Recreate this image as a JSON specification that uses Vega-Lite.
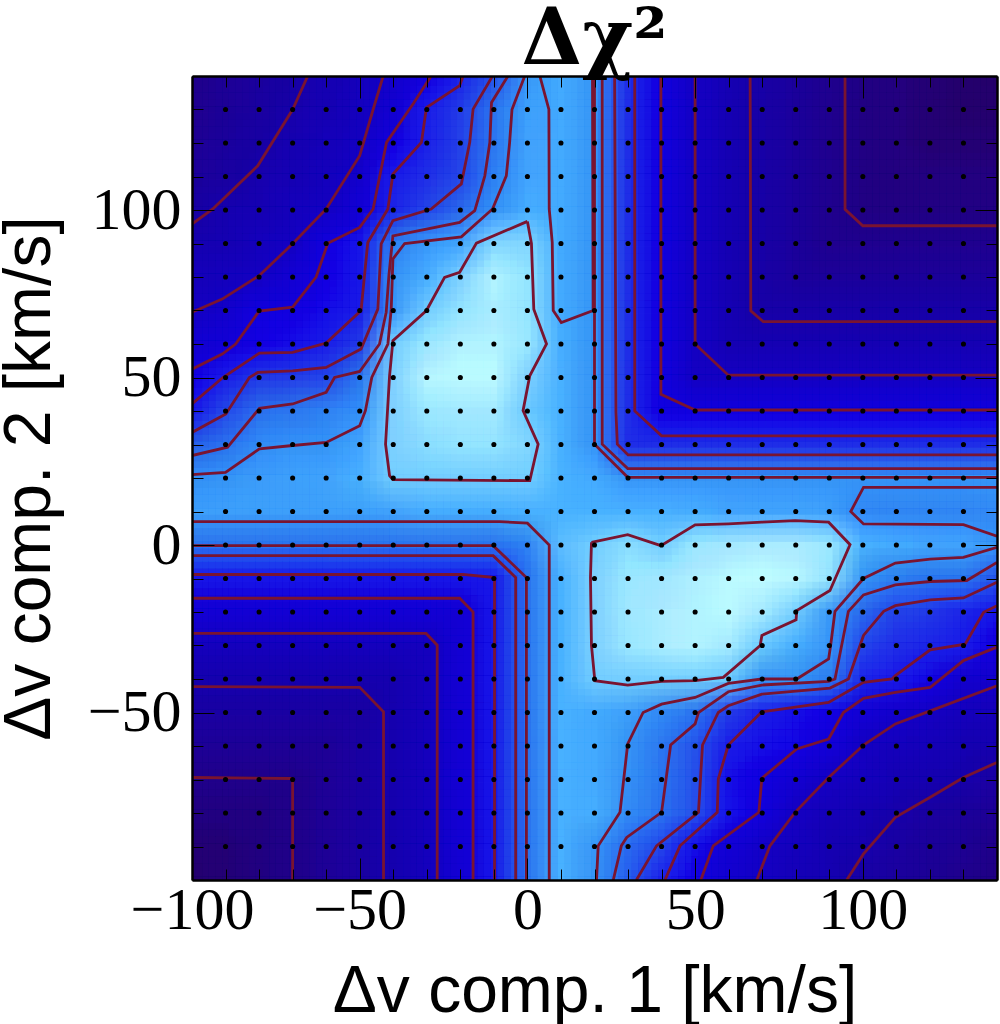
{"$schema":"https://vega.github.io/schema/vega-lite/v6.json","autosize":"none","width":805,"height":804,"padding":{"left":192,"top":76,"right":3,"bottom":144},"background":"white","view":{"stroke":null},
"title":{"text":"Δχ²","font":"DejaVu Serif","fontWeight":"bold","fontSize":78,"anchor":"middle","color":"black","offset":-34},
"data":{"values":[
{"x":-100,"y":140,"v":1.1},{"x":-90,"y":140,"v":1.3},{"x":-80,"y":140,"v":1.55},{"x":-70,"y":140,"v":1.85},{"x":-60,"y":140,"v":2.2},{"x":-50,"y":140,"v":2.7},{"x":-40,"y":140,"v":3.3},{"x":-30,"y":140,"v":3.9},{"x":-20,"y":140,"v":5.1},{"x":-10,"y":140,"v":6.1},{"x":0,"y":140,"v":8.2},{"x":10,"y":140,"v":8.7},{"x":20,"y":140,"v":8},{"x":30,"y":140,"v":5.4},{"x":40,"y":140,"v":4},{"x":50,"y":140,"v":3},{"x":60,"y":140,"v":2.4},{"x":70,"y":140,"v":1.9},{"x":80,"y":140,"v":1.5},{"x":90,"y":140,"v":1.15},{"x":100,"y":140,"v":0.85},{"x":110,"y":140,"v":0.65},{"x":120,"y":140,"v":0.45},{"x":130,"y":140,"v":0.3},{"x":140,"y":140,"v":0.2},
{"x":-100,"y":130,"v":1.15},{"x":-90,"y":130,"v":1.4},{"x":-80,"y":130,"v":1.7},{"x":-70,"y":130,"v":2},{"x":-60,"y":130,"v":2.4},{"x":-50,"y":130,"v":2.85},{"x":-40,"y":130,"v":3.5},{"x":-30,"y":130,"v":5},{"x":-20,"y":130,"v":5.7},{"x":-10,"y":130,"v":7.1},{"x":0,"y":130,"v":8.4},{"x":10,"y":130,"v":8.7},{"x":20,"y":130,"v":8},{"x":30,"y":130,"v":5.4},{"x":40,"y":130,"v":4},{"x":50,"y":130,"v":3},{"x":60,"y":130,"v":2.4},{"x":70,"y":130,"v":1.9},{"x":80,"y":130,"v":1.5},{"x":90,"y":130,"v":1.15},{"x":100,"y":130,"v":0.85},{"x":110,"y":130,"v":0.65},{"x":120,"y":130,"v":0.45},{"x":130,"y":130,"v":0.3},{"x":140,"y":130,"v":0.3},
{"x":-100,"y":120,"v":1.25},{"x":-90,"y":120,"v":1.55},{"x":-80,"y":120,"v":1.85},{"x":-70,"y":120,"v":2.2},{"x":-60,"y":120,"v":2.6},{"x":-50,"y":120,"v":2.95},{"x":-40,"y":120,"v":4.15},{"x":-30,"y":120,"v":5.1},{"x":-20,"y":120,"v":5.8},{"x":-10,"y":120,"v":7.2},{"x":0,"y":120,"v":8.5},{"x":10,"y":120,"v":8.7},{"x":20,"y":120,"v":8},{"x":30,"y":120,"v":5.4},{"x":40,"y":120,"v":4},{"x":50,"y":120,"v":3},{"x":60,"y":120,"v":2.4},{"x":70,"y":120,"v":1.9},{"x":80,"y":120,"v":1.5},{"x":90,"y":120,"v":1.15},{"x":100,"y":120,"v":0.85},{"x":110,"y":120,"v":0.65},{"x":120,"y":120,"v":0.45},{"x":130,"y":120,"v":0.45},{"x":140,"y":120,"v":0.45},
{"x":-100,"y":110,"v":1.45},{"x":-90,"y":110,"v":1.7},{"x":-80,"y":110,"v":2.1},{"x":-70,"y":110,"v":2.4},{"x":-60,"y":110,"v":2.75},{"x":-50,"y":110,"v":3.3},{"x":-40,"y":110,"v":5},{"x":-30,"y":110,"v":5.4},{"x":-20,"y":110,"v":5.9},{"x":-10,"y":110,"v":7.4},{"x":0,"y":110,"v":8.6},{"x":10,"y":110,"v":8.7},{"x":20,"y":110,"v":8},{"x":30,"y":110,"v":5.4},{"x":40,"y":110,"v":4},{"x":50,"y":110,"v":3},{"x":60,"y":110,"v":2.4},{"x":70,"y":110,"v":1.9},{"x":80,"y":110,"v":1.5},{"x":90,"y":110,"v":1.15},{"x":100,"y":110,"v":0.85},{"x":110,"y":110,"v":0.65},{"x":120,"y":110,"v":0.65},{"x":130,"y":110,"v":0.65},{"x":140,"y":110,"v":0.65},
{"x":-100,"y":100,"v":1.85},{"x":-90,"y":100,"v":2.15},{"x":-80,"y":100,"v":2.4},{"x":-70,"y":100,"v":2.7},{"x":-60,"y":100,"v":3},{"x":-50,"y":100,"v":3.7},{"x":-40,"y":100,"v":5.2},{"x":-30,"y":100,"v":5.9},{"x":-20,"y":100,"v":6.7},{"x":-10,"y":100,"v":8},{"x":0,"y":100,"v":8.8},{"x":10,"y":100,"v":8.7},{"x":20,"y":100,"v":8},{"x":30,"y":100,"v":5.4},{"x":40,"y":100,"v":4},{"x":50,"y":100,"v":3},{"x":60,"y":100,"v":2.4},{"x":70,"y":100,"v":1.9},{"x":80,"y":100,"v":1.5},{"x":90,"y":100,"v":1.15},{"x":100,"y":100,"v":0.85},{"x":110,"y":100,"v":0.85},{"x":120,"y":100,"v":0.85},{"x":130,"y":100,"v":0.85},{"x":140,"y":100,"v":0.85},
{"x":-100,"y":90,"v":2.2},{"x":-90,"y":90,"v":2.4},{"x":-80,"y":90,"v":2.7},{"x":-70,"y":90,"v":3},{"x":-60,"y":90,"v":4},{"x":-50,"y":90,"v":4.8},{"x":-40,"y":90,"v":7.4},{"x":-30,"y":90,"v":8.2},{"x":-20,"y":90,"v":8.6},{"x":-10,"y":90,"v":9.7},{"x":0,"y":90,"v":9.7},{"x":10,"y":90,"v":8.7},{"x":20,"y":90,"v":8},{"x":30,"y":90,"v":5.4},{"x":40,"y":90,"v":4},{"x":50,"y":90,"v":3},{"x":60,"y":90,"v":2.4},{"x":70,"y":90,"v":1.9},{"x":80,"y":90,"v":1.5},{"x":90,"y":90,"v":1.15},{"x":100,"y":90,"v":1.15},{"x":110,"y":90,"v":1.15},{"x":120,"y":90,"v":1.15},{"x":130,"y":90,"v":1.15},{"x":140,"y":90,"v":1.15},
{"x":-100,"y":80,"v":2.55},{"x":-90,"y":80,"v":2.75},{"x":-80,"y":80,"v":3},{"x":-70,"y":80,"v":3.6},{"x":-60,"y":80,"v":4.2},{"x":-50,"y":80,"v":4.9},{"x":-40,"y":80,"v":8},{"x":-30,"y":80,"v":8.8},{"x":-20,"y":80,"v":9.6},{"x":-10,"y":80,"v":10.6},{"x":0,"y":80,"v":9.9},{"x":10,"y":80,"v":8.7},{"x":20,"y":80,"v":8},{"x":30,"y":80,"v":5.4},{"x":40,"y":80,"v":4},{"x":50,"y":80,"v":3},{"x":60,"y":80,"v":2.4},{"x":70,"y":80,"v":1.9},{"x":80,"y":80,"v":1.5},{"x":90,"y":80,"v":1.5},{"x":100,"y":80,"v":1.5},{"x":110,"y":80,"v":1.5},{"x":120,"y":80,"v":1.5},{"x":130,"y":80,"v":1.5},{"x":140,"y":80,"v":1.5},
{"x":-100,"y":70,"v":3},{"x":-90,"y":70,"v":3.2},{"x":-80,"y":70,"v":4},{"x":-70,"y":70,"v":4.05},{"x":-60,"y":70,"v":4.5},{"x":-50,"y":70,"v":5},{"x":-40,"y":70,"v":8.1},{"x":-30,"y":70,"v":9.5},{"x":-20,"y":70,"v":9.9},{"x":-10,"y":70,"v":10.4},{"x":0,"y":70,"v":9.9},{"x":10,"y":70,"v":8.7},{"x":20,"y":70,"v":8},{"x":30,"y":70,"v":5.4},{"x":40,"y":70,"v":4},{"x":50,"y":70,"v":3},{"x":60,"y":70,"v":2.4},{"x":70,"y":70,"v":1.9},{"x":80,"y":70,"v":1.9},{"x":90,"y":70,"v":1.9},{"x":100,"y":70,"v":1.9},{"x":110,"y":70,"v":1.9},{"x":120,"y":70,"v":1.9},{"x":130,"y":70,"v":1.9},{"x":140,"y":70,"v":1.9},
{"x":-100,"y":60,"v":3.5},{"x":-90,"y":60,"v":3.8},{"x":-80,"y":60,"v":4.2},{"x":-70,"y":60,"v":4.6},{"x":-60,"y":60,"v":5},{"x":-50,"y":60,"v":5.7},{"x":-40,"y":60,"v":9.5},{"x":-30,"y":60,"v":10},{"x":-20,"y":60,"v":10.6},{"x":-10,"y":60,"v":10.6},{"x":0,"y":60,"v":10},{"x":10,"y":60,"v":8.8},{"x":20,"y":60,"v":8},{"x":30,"y":60,"v":5.4},{"x":40,"y":60,"v":4},{"x":50,"y":60,"v":3},{"x":60,"y":60,"v":2.4},{"x":70,"y":60,"v":2.4},{"x":80,"y":60,"v":2.4},{"x":90,"y":60,"v":2.4},{"x":100,"y":60,"v":2.4},{"x":110,"y":60,"v":2.4},{"x":120,"y":60,"v":2.4},{"x":130,"y":60,"v":2.4},{"x":140,"y":60,"v":2.4},
{"x":-100,"y":50,"v":4.2},{"x":-90,"y":50,"v":5},{"x":-80,"y":50,"v":5.6},{"x":-70,"y":50,"v":5.7},{"x":-60,"y":50,"v":5.9},{"x":-50,"y":50,"v":7.1},{"x":-40,"y":50,"v":9.6},{"x":-30,"y":50,"v":10.7},{"x":-20,"y":50,"v":10.8},{"x":-10,"y":50,"v":10.8},{"x":0,"y":50,"v":9.6},{"x":10,"y":50,"v":8.9},{"x":20,"y":50,"v":8},{"x":30,"y":50,"v":5.4},{"x":40,"y":50,"v":4},{"x":50,"y":50,"v":3},{"x":60,"y":50,"v":3},{"x":70,"y":50,"v":3},{"x":80,"y":50,"v":3},{"x":90,"y":50,"v":3},{"x":100,"y":50,"v":3},{"x":110,"y":50,"v":3},{"x":120,"y":50,"v":3},{"x":130,"y":50,"v":3},{"x":140,"y":50,"v":3},
{"x":-100,"y":40,"v":4.9},{"x":-90,"y":40,"v":6},{"x":-80,"y":40,"v":6.9},{"x":-70,"y":40,"v":7.2},{"x":-60,"y":40,"v":7.5},{"x":-50,"y":40,"v":7.9},{"x":-40,"y":40,"v":9.6},{"x":-30,"y":40,"v":10},{"x":-20,"y":40,"v":10.2},{"x":-10,"y":40,"v":10.2},{"x":0,"y":40,"v":9.4},{"x":10,"y":40,"v":8.9},{"x":20,"y":40,"v":8},{"x":30,"y":40,"v":5.4},{"x":40,"y":40,"v":4},{"x":50,"y":40,"v":4},{"x":60,"y":40,"v":4},{"x":70,"y":40,"v":4},{"x":80,"y":40,"v":4},{"x":90,"y":40,"v":4},{"x":100,"y":40,"v":4},{"x":110,"y":40,"v":4},{"x":120,"y":40,"v":4},{"x":130,"y":40,"v":4},{"x":140,"y":40,"v":4},
{"x":-100,"y":30,"v":6.5},{"x":-90,"y":30,"v":7},{"x":-80,"y":30,"v":7.8},{"x":-70,"y":30,"v":8},{"x":-60,"y":30,"v":8.05},{"x":-50,"y":30,"v":8.6},{"x":-40,"y":30,"v":9.6},{"x":-30,"y":30,"v":9.8},{"x":-20,"y":30,"v":9.9},{"x":-10,"y":30,"v":9.9},{"x":0,"y":30,"v":9.7},{"x":10,"y":30,"v":8.9},{"x":20,"y":30,"v":8},{"x":30,"y":30,"v":5.4},{"x":40,"y":30,"v":5.4},{"x":50,"y":30,"v":5.4},{"x":60,"y":30,"v":5.4},{"x":70,"y":30,"v":5.4},{"x":80,"y":30,"v":5.4},{"x":90,"y":30,"v":5.4},{"x":100,"y":30,"v":5.4},{"x":110,"y":30,"v":5.4},{"x":120,"y":30,"v":5.4},{"x":130,"y":30,"v":5.4},{"x":140,"y":30,"v":5.4},
{"x":-100,"y":20,"v":7.9},{"x":-90,"y":20,"v":8},{"x":-80,"y":20,"v":8.3},{"x":-70,"y":20,"v":8.4},{"x":-60,"y":20,"v":8.5},{"x":-50,"y":20,"v":8.9},{"x":-40,"y":20,"v":9.5},{"x":-30,"y":20,"v":9.5},{"x":-20,"y":20,"v":9.5},{"x":-10,"y":20,"v":9.5},{"x":0,"y":20,"v":9.5},{"x":10,"y":20,"v":9},{"x":20,"y":20,"v":8.7},{"x":30,"y":20,"v":8},{"x":40,"y":20,"v":8},{"x":50,"y":20,"v":8},{"x":60,"y":20,"v":8},{"x":70,"y":20,"v":8},{"x":80,"y":20,"v":8},{"x":90,"y":20,"v":8},{"x":100,"y":20,"v":8},{"x":110,"y":20,"v":8},{"x":120,"y":20,"v":8},{"x":130,"y":20,"v":8},{"x":140,"y":20,"v":8},
{"x":-100,"y":10,"v":8.4},{"x":-90,"y":10,"v":8.4},{"x":-80,"y":10,"v":8.4},{"x":-70,"y":10,"v":8.4},{"x":-60,"y":10,"v":8.4},{"x":-50,"y":10,"v":8.4},{"x":-40,"y":10,"v":8.6},{"x":-30,"y":10,"v":8.8},{"x":-20,"y":10,"v":8.8},{"x":-10,"y":10,"v":8.8},{"x":0,"y":10,"v":8.9},{"x":10,"y":10,"v":9},{"x":20,"y":10,"v":9},{"x":30,"y":10,"v":9},{"x":40,"y":10,"v":8.9},{"x":50,"y":10,"v":8.8},{"x":60,"y":10,"v":8.6},{"x":70,"y":10,"v":8.5},{"x":80,"y":10,"v":8.5},{"x":90,"y":10,"v":8.4},{"x":100,"y":10,"v":7.7},{"x":110,"y":10,"v":7.6},{"x":120,"y":10,"v":7.6},{"x":130,"y":10,"v":7.6},{"x":140,"y":10,"v":7.8},
{"x":-100,"y":0,"v":7},{"x":-90,"y":0,"v":7},{"x":-80,"y":0,"v":7},{"x":-70,"y":0,"v":7},{"x":-60,"y":0,"v":7},{"x":-50,"y":0,"v":7},{"x":-40,"y":0,"v":7},{"x":-30,"y":0,"v":7},{"x":-20,"y":0,"v":7},{"x":-10,"y":0,"v":7},{"x":0,"y":0,"v":7.5},{"x":10,"y":0,"v":9.2},{"x":20,"y":0,"v":9.5},{"x":30,"y":0,"v":9.8},{"x":40,"y":0,"v":9.5},{"x":50,"y":0,"v":10},{"x":60,"y":0,"v":10.3},{"x":70,"y":0,"v":10.4},{"x":80,"y":0,"v":10.4},{"x":90,"y":0,"v":10},{"x":100,"y":0,"v":9},{"x":110,"y":0,"v":8.7},{"x":120,"y":0,"v":8.6},{"x":130,"y":0,"v":8.5},{"x":140,"y":0,"v":8},
{"x":-100,"y":-10,"v":4.8},{"x":-90,"y":-10,"v":4.8},{"x":-80,"y":-10,"v":4.8},{"x":-70,"y":-10,"v":4.8},{"x":-60,"y":-10,"v":4.8},{"x":-50,"y":-10,"v":4.8},{"x":-40,"y":-10,"v":4.8},{"x":-30,"y":-10,"v":4.8},{"x":-20,"y":-10,"v":4.8},{"x":-10,"y":-10,"v":4.9},{"x":0,"y":-10,"v":7},{"x":10,"y":-10,"v":9},{"x":20,"y":-10,"v":9.6},{"x":30,"y":-10,"v":10},{"x":40,"y":-10,"v":10.2},{"x":50,"y":-10,"v":10.5},{"x":60,"y":-10,"v":10.8},{"x":70,"y":-10,"v":10.9},{"x":80,"y":-10,"v":10.7},{"x":90,"y":-10,"v":9.9},{"x":100,"y":-10,"v":8},{"x":110,"y":-10,"v":7.3},{"x":120,"y":-10,"v":7.1},{"x":130,"y":-10,"v":7.1},{"x":140,"y":-10,"v":6.2},
{"x":-100,"y":-20,"v":3.6},{"x":-90,"y":-20,"v":3.6},{"x":-80,"y":-20,"v":3.6},{"x":-70,"y":-20,"v":3.6},{"x":-60,"y":-20,"v":3.6},{"x":-50,"y":-20,"v":3.6},{"x":-40,"y":-20,"v":3.6},{"x":-30,"y":-20,"v":3.6},{"x":-20,"y":-20,"v":3.6},{"x":-10,"y":-20,"v":4.9},{"x":0,"y":-20,"v":7},{"x":10,"y":-20,"v":9},{"x":20,"y":-20,"v":9.6},{"x":30,"y":-20,"v":10.1},{"x":40,"y":-20,"v":10.4},{"x":50,"y":-20,"v":10.6},{"x":60,"y":-20,"v":10.8},{"x":70,"y":-20,"v":10.3},{"x":80,"y":-20,"v":9.5},{"x":90,"y":-20,"v":8.2},{"x":100,"y":-20,"v":6.7},{"x":110,"y":-20,"v":5.8},{"x":120,"y":-20,"v":5.6},{"x":130,"y":-20,"v":5.2},{"x":140,"y":-20,"v":4.8},
{"x":-100,"y":-30,"v":2.8},{"x":-90,"y":-30,"v":2.8},{"x":-80,"y":-30,"v":2.8},{"x":-70,"y":-30,"v":2.8},{"x":-60,"y":-30,"v":2.8},{"x":-50,"y":-30,"v":2.8},{"x":-40,"y":-30,"v":2.8},{"x":-30,"y":-30,"v":2.8},{"x":-20,"y":-30,"v":3.6},{"x":-10,"y":-30,"v":4.9},{"x":0,"y":-30,"v":7},{"x":10,"y":-30,"v":9},{"x":20,"y":-30,"v":9.6},{"x":30,"y":-30,"v":10},{"x":40,"y":-30,"v":10.4},{"x":50,"y":-30,"v":10.6},{"x":60,"y":-30,"v":10.3},{"x":70,"y":-30,"v":9.4},{"x":80,"y":-30,"v":8.8},{"x":90,"y":-30,"v":8.1},{"x":100,"y":-30,"v":5.9},{"x":110,"y":-30,"v":5.4},{"x":120,"y":-30,"v":5.2},{"x":130,"y":-30,"v":5},{"x":140,"y":-30,"v":4.1},
{"x":-100,"y":-40,"v":2.15},{"x":-90,"y":-40,"v":2.15},{"x":-80,"y":-40,"v":2.15},{"x":-70,"y":-40,"v":2.15},{"x":-60,"y":-40,"v":2.15},{"x":-50,"y":-40,"v":2.15},{"x":-40,"y":-40,"v":2.15},{"x":-30,"y":-40,"v":2.8},{"x":-20,"y":-40,"v":3.6},{"x":-10,"y":-40,"v":4.9},{"x":0,"y":-40,"v":7},{"x":10,"y":-40,"v":9},{"x":20,"y":-40,"v":9.5},{"x":30,"y":-40,"v":9.5},{"x":40,"y":-40,"v":9.5},{"x":50,"y":-40,"v":9.5},{"x":60,"y":-40,"v":9.4},{"x":70,"y":-40,"v":8},{"x":80,"y":-40,"v":8},{"x":90,"y":-40,"v":7.3},{"x":100,"y":-40,"v":5.2},{"x":110,"y":-40,"v":4.95},{"x":120,"y":-40,"v":4.3},{"x":130,"y":-40,"v":3.4},{"x":140,"y":-40,"v":3.2},
{"x":-100,"y":-50,"v":1.75},{"x":-90,"y":-50,"v":1.75},{"x":-80,"y":-50,"v":1.75},{"x":-70,"y":-50,"v":1.75},{"x":-60,"y":-50,"v":1.75},{"x":-50,"y":-50,"v":1.75},{"x":-40,"y":-50,"v":2.15},{"x":-30,"y":-50,"v":2.8},{"x":-20,"y":-50,"v":3.6},{"x":-10,"y":-50,"v":4.9},{"x":0,"y":-50,"v":7},{"x":10,"y":-50,"v":9},{"x":20,"y":-50,"v":8.7},{"x":30,"y":-50,"v":8.4},{"x":40,"y":-50,"v":7.7},{"x":50,"y":-50,"v":7.05},{"x":60,"y":-50,"v":5.7},{"x":70,"y":-50,"v":5},{"x":80,"y":-50,"v":4.6},{"x":90,"y":-50,"v":4.2},{"x":100,"y":-50,"v":3.7},{"x":110,"y":-50,"v":3.3},{"x":120,"y":-50,"v":3},{"x":130,"y":-50,"v":2.7},{"x":140,"y":-50,"v":2.5},
{"x":-100,"y":-60,"v":1.35},{"x":-90,"y":-60,"v":1.35},{"x":-80,"y":-60,"v":1.35},{"x":-70,"y":-60,"v":1.35},{"x":-60,"y":-60,"v":1.35},{"x":-50,"y":-60,"v":1.75},{"x":-40,"y":-60,"v":2.15},{"x":-30,"y":-60,"v":2.8},{"x":-20,"y":-60,"v":3.6},{"x":-10,"y":-60,"v":4.9},{"x":0,"y":-60,"v":7},{"x":10,"y":-60,"v":8.9},{"x":20,"y":-60,"v":8.7},{"x":30,"y":-60,"v":8},{"x":40,"y":-60,"v":7.2},{"x":50,"y":-60,"v":6.2},{"x":60,"y":-60,"v":5},{"x":70,"y":-60,"v":4.6},{"x":80,"y":-60,"v":4.3},{"x":90,"y":-60,"v":3.8},{"x":100,"y":-60,"v":3},{"x":110,"y":-60,"v":2.75},{"x":120,"y":-60,"v":2.5},{"x":130,"y":-60,"v":2.3},{"x":140,"y":-60,"v":2.15},
{"x":-100,"y":-70,"v":1},{"x":-90,"y":-70,"v":1},{"x":-80,"y":-70,"v":1},{"x":-70,"y":-70,"v":1},{"x":-60,"y":-70,"v":1.35},{"x":-50,"y":-70,"v":1.75},{"x":-40,"y":-70,"v":2.15},{"x":-30,"y":-70,"v":2.8},{"x":-20,"y":-70,"v":3.6},{"x":-10,"y":-70,"v":4.9},{"x":0,"y":-70,"v":7},{"x":10,"y":-70,"v":8.9},{"x":20,"y":-70,"v":8.7},{"x":30,"y":-70,"v":7.95},{"x":40,"y":-70,"v":7.1},{"x":50,"y":-70,"v":6.1},{"x":60,"y":-70,"v":4.6},{"x":70,"y":-70,"v":4},{"x":80,"y":-70,"v":3.5},{"x":90,"y":-70,"v":3},{"x":100,"y":-70,"v":2.7},{"x":110,"y":-70,"v":2.4},{"x":120,"y":-70,"v":2.2},{"x":130,"y":-70,"v":2},{"x":140,"y":-70,"v":1.75},
{"x":-100,"y":-80,"v":0.75},{"x":-90,"y":-80,"v":0.75},{"x":-80,"y":-80,"v":0.75},{"x":-70,"y":-80,"v":1},{"x":-60,"y":-80,"v":1.35},{"x":-50,"y":-80,"v":1.75},{"x":-40,"y":-80,"v":2.15},{"x":-30,"y":-80,"v":2.8},{"x":-20,"y":-80,"v":3.6},{"x":-10,"y":-80,"v":4.9},{"x":0,"y":-80,"v":7},{"x":10,"y":-80,"v":8.9},{"x":20,"y":-80,"v":8.8},{"x":30,"y":-80,"v":7.8},{"x":40,"y":-80,"v":7},{"x":50,"y":-80,"v":6.1},{"x":60,"y":-80,"v":4.7},{"x":70,"y":-80,"v":3.9},{"x":80,"y":-80,"v":3},{"x":90,"y":-80,"v":2.6},{"x":100,"y":-80,"v":2.3},{"x":110,"y":-80,"v":2},{"x":120,"y":-80,"v":1.7},{"x":130,"y":-80,"v":1.5},{"x":140,"y":-80,"v":1.3},
{"x":-100,"y":-90,"v":0.5},{"x":-90,"y":-90,"v":0.5},{"x":-80,"y":-90,"v":0.75},{"x":-70,"y":-90,"v":1},{"x":-60,"y":-90,"v":1.35},{"x":-50,"y":-90,"v":1.75},{"x":-40,"y":-90,"v":2.15},{"x":-30,"y":-90,"v":2.8},{"x":-20,"y":-90,"v":3.6},{"x":-10,"y":-90,"v":4.9},{"x":0,"y":-90,"v":7},{"x":10,"y":-90,"v":8.9},{"x":20,"y":-90,"v":8.1},{"x":30,"y":-90,"v":6.8},{"x":40,"y":-90,"v":5.9},{"x":50,"y":-90,"v":4.5},{"x":60,"y":-90,"v":3.7},{"x":70,"y":-90,"v":3.1},{"x":80,"y":-90,"v":2.7},{"x":90,"y":-90,"v":2.35},{"x":100,"y":-90,"v":2.1},{"x":110,"y":-90,"v":1.75},{"x":120,"y":-90,"v":1.45},{"x":130,"y":-90,"v":1.25},{"x":140,"y":-90,"v":1},
{"x":-100,"y":-100,"v":0.25},{"x":-90,"y":-100,"v":0.5},{"x":-80,"y":-100,"v":0.75},{"x":-70,"y":-100,"v":1},{"x":-60,"y":-100,"v":1.35},{"x":-50,"y":-100,"v":1.75},{"x":-40,"y":-100,"v":2.15},{"x":-30,"y":-100,"v":2.8},{"x":-20,"y":-100,"v":3.6},{"x":-10,"y":-100,"v":4.9},{"x":0,"y":-100,"v":7},{"x":10,"y":-100,"v":8.9},{"x":20,"y":-100,"v":8.05},{"x":30,"y":-100,"v":6.4},{"x":40,"y":-100,"v":5.1},{"x":50,"y":-100,"v":4.15},{"x":60,"y":-100,"v":3.4},{"x":70,"y":-100,"v":2.95},{"x":80,"y":-100,"v":2.55},{"x":90,"y":-100,"v":2.15},{"x":100,"y":-100,"v":1.85},{"x":110,"y":-100,"v":1.6},{"x":120,"y":-100,"v":1.3},{"x":130,"y":-100,"v":1.05},{"x":140,"y":-100,"v":0.8}
]},
"encoding":{"x":{"field":"x","type":"quantitative","scale":{"domain":[-100,140],"nice":false,"zero":false},"axis":null},"y":{"field":"y","type":"quantitative","scale":{"domain":[-100,140],"nice":false,"zero":false},"axis":null}},
"resolve":{"axis":{"x":"independent","y":"independent"}},
"layer":[
{"encoding":{"color":{"field":"v","type":"quantitative","legend":null,"scale":{"domain":[0,1,2,3,4,5,6,7,8,9,10,11],"range":["#2a0068","#250090","#1e00b0","#1a00c8","#1600e4","#2020f0","#2a50f4","#3078f6","#3a98fa","#50b8ff","#a0eeff","#c8ffff"],"interpolate":"rgb"}}},
"layer":[
{"mark":{"type":"rect","clip":true,"width":33.6,"height":33.6,"xOffset":-13.44,"yOffset":-13.44,"opacity":1}},
{"mark":{"type":"rect","clip":true,"width":33.6,"height":33.6,"xOffset":-6.72,"yOffset":-13.44,"opacity":0.5}},
{"mark":{"type":"rect","clip":true,"width":33.6,"height":33.6,"xOffset":0,"yOffset":-13.44,"opacity":0.3333}},
{"mark":{"type":"rect","clip":true,"width":33.6,"height":33.6,"xOffset":6.72,"yOffset":-13.44,"opacity":0.25}},
{"mark":{"type":"rect","clip":true,"width":33.6,"height":33.6,"xOffset":13.44,"yOffset":-13.44,"opacity":0.2}},
{"mark":{"type":"rect","clip":true,"width":33.6,"height":33.6,"xOffset":-13.44,"yOffset":-6.72,"opacity":0.1667}},
{"mark":{"type":"rect","clip":true,"width":33.6,"height":33.6,"xOffset":-6.72,"yOffset":-6.72,"opacity":0.1429}},
{"mark":{"type":"rect","clip":true,"width":33.6,"height":33.6,"xOffset":0,"yOffset":-6.72,"opacity":0.125}},
{"mark":{"type":"rect","clip":true,"width":33.6,"height":33.6,"xOffset":6.72,"yOffset":-6.72,"opacity":0.1111}},
{"mark":{"type":"rect","clip":true,"width":33.6,"height":33.6,"xOffset":13.44,"yOffset":-6.72,"opacity":0.1}},
{"mark":{"type":"rect","clip":true,"width":33.6,"height":33.6,"xOffset":-13.44,"yOffset":0,"opacity":0.0909}},
{"mark":{"type":"rect","clip":true,"width":33.6,"height":33.6,"xOffset":-6.72,"yOffset":0,"opacity":0.0833}},
{"mark":{"type":"rect","clip":true,"width":33.6,"height":33.6,"xOffset":0,"yOffset":0,"opacity":0.0769}},
{"mark":{"type":"rect","clip":true,"width":33.6,"height":33.6,"xOffset":6.72,"yOffset":0,"opacity":0.0714}},
{"mark":{"type":"rect","clip":true,"width":33.6,"height":33.6,"xOffset":13.44,"yOffset":0,"opacity":0.0667}},
{"mark":{"type":"rect","clip":true,"width":33.6,"height":33.6,"xOffset":-13.44,"yOffset":6.72,"opacity":0.0625}},
{"mark":{"type":"rect","clip":true,"width":33.6,"height":33.6,"xOffset":-6.72,"yOffset":6.72,"opacity":0.0588}},
{"mark":{"type":"rect","clip":true,"width":33.6,"height":33.6,"xOffset":0,"yOffset":6.72,"opacity":0.0556}},
{"mark":{"type":"rect","clip":true,"width":33.6,"height":33.6,"xOffset":6.72,"yOffset":6.72,"opacity":0.0526}},
{"mark":{"type":"rect","clip":true,"width":33.6,"height":33.6,"xOffset":13.44,"yOffset":6.72,"opacity":0.05}},
{"mark":{"type":"rect","clip":true,"width":33.6,"height":33.6,"xOffset":-13.44,"yOffset":13.44,"opacity":0.0476}},
{"mark":{"type":"rect","clip":true,"width":33.6,"height":33.6,"xOffset":-6.72,"yOffset":13.44,"opacity":0.0455}},
{"mark":{"type":"rect","clip":true,"width":33.6,"height":33.6,"xOffset":0,"yOffset":13.44,"opacity":0.0435}},
{"mark":{"type":"rect","clip":true,"width":33.6,"height":33.6,"xOffset":6.72,"yOffset":13.44,"opacity":0.0417}},
{"mark":{"type":"rect","clip":true,"width":33.6,"height":33.6,"xOffset":13.44,"yOffset":13.44,"opacity":0.04}}
]},
{"data":{"values":[
{"c":"a1","i":1,"x":-100,"y":95.8},{"c":"a1","i":2,"x":-93.8,"y":100.3},{"c":"a1","i":3,"x":-80.4,"y":113.2},{"c":"a1","i":4,"x":-70,"y":130},{"c":"a1","i":5,"x":-65.5,"y":140},
{"c":"a2","i":1,"x":-100,"y":69.5},{"c":"a2","i":2,"x":-91,"y":73.4},{"c":"a2","i":3,"x":-80,"y":80.4},{"c":"a2","i":4,"x":-70,"y":89.9},{"c":"a2","i":5,"x":-60,"y":100.3},{"c":"a2","i":6,"x":-50,"y":116.2},{"c":"a2","i":7,"x":-46,"y":130},{"c":"a2","i":8,"x":-43,"y":140},
{"c":"a3","i":1,"x":-100,"y":52.5},{"c":"a3","i":2,"x":-91,"y":57},{"c":"a3","i":3,"x":-87,"y":60},{"c":"a3","i":4,"x":-80,"y":69.8},{"c":"a3","i":5,"x":-70,"y":71},{"c":"a3","i":6,"x":-63,"y":80},{"c":"a3","i":7,"x":-59.5,"y":90.1},{"c":"a3","i":8,"x":-50,"y":94.8},{"c":"a3","i":9,"x":-46,"y":100.3},{"c":"a3","i":10,"x":-42,"y":120.2},{"c":"a3","i":11,"x":-34,"y":131.8},{"c":"a3","i":12,"x":-28.7,"y":140},
{"c":"a4","i":1,"x":-19.2,"y":140},{"c":"a4","i":2,"x":-20.2,"y":137.1},{"c":"a4","i":3,"x":-30.1,"y":130.6},{"c":"a4","i":4,"x":-31.6,"y":120.2},{"c":"a4","i":5,"x":-40.1,"y":110.7},{"c":"a4","i":6,"x":-41.6,"y":100.3},{"c":"a4","i":7,"x":-47.6,"y":90.3},{"c":"a4","i":8,"x":-49.6,"y":70},{"c":"a4","i":9,"x":-60,"y":60.3},{"c":"a4","i":10,"x":-70,"y":57.5},{"c":"a4","i":11,"x":-79.9,"y":57.3},{"c":"a4","i":12,"x":-90.8,"y":50},{"c":"a4","i":13,"x":-100,"y":42.1},
{"c":"a5","i":1,"x":-10.4,"y":140},{"c":"a5","i":2,"x":-16.2,"y":130.1},{"c":"a5","i":3,"x":-17.2,"y":120.2},{"c":"a5","i":4,"x":-19.7,"y":107.8},{"c":"a5","i":5,"x":-28.7,"y":100.3},{"c":"a5","i":6,"x":-40.1,"y":96.8},{"c":"a5","i":7,"x":-43.6,"y":89.9},{"c":"a5","i":8,"x":-44.6,"y":70.4},{"c":"a5","i":9,"x":-49.6,"y":58.5},{"c":"a5","i":10,"x":-60,"y":53},{"c":"a5","i":11,"x":-70,"y":52},{"c":"a5","i":12,"x":-80.4,"y":51.5},{"c":"a5","i":13,"x":-82.9,"y":50},{"c":"a5","i":14,"x":-89.9,"y":39.1},{"c":"a5","i":15,"x":-100,"y":33.6},
{"c":"a6","i":1,"x":-5.8,"y":140},{"c":"a6","i":2,"x":-10.7,"y":132.1},{"c":"a6","i":3,"x":-11.2,"y":120.2},{"c":"a6","i":4,"x":-12.7,"y":110.2},{"c":"a6","i":5,"x":-15.7,"y":99.8},{"c":"a6","i":6,"x":-20.2,"y":96.3},{"c":"a6","i":7,"x":-40.1,"y":92.3},{"c":"a6","i":8,"x":-41.3,"y":80.4},{"c":"a6","i":9,"x":-42.1,"y":69.5},{"c":"a6","i":10,"x":-44.1,"y":60},{"c":"a6","i":11,"x":-50,"y":51.8},{"c":"a6","i":12,"x":-57.5,"y":50},{"c":"a6","i":13,"x":-60,"y":45.6},{"c":"a6","i":14,"x":-70,"y":42.1},{"c":"a6","i":15,"x":-79.9,"y":40.8},{"c":"a6","i":16,"x":-89.4,"y":29.2},{"c":"a6","i":17,"x":-100,"y":26.7},
{"c":"a7","i":1,"x":-0.8,"y":140},{"c":"a7","i":2,"x":-4.6,"y":130},{"c":"a7","i":3,"x":-5.3,"y":120.2},{"c":"a7","i":4,"x":-6.3,"y":110.2},{"c":"a7","i":5,"x":-10.4,"y":100.3},{"c":"a7","i":6,"x":-19.7,"y":92},{"c":"a7","i":7,"x":-36.6,"y":90},{"c":"a7","i":8,"x":-40.1,"y":85.4},{"c":"a7","i":9,"x":-40.6,"y":70.4},{"c":"a7","i":10,"x":-41.6,"y":60},{"c":"a7","i":11,"x":-46.4,"y":50},{"c":"a7","i":12,"x":-48.3,"y":40.1},{"c":"a7","i":13,"x":-50,"y":35.6},{"c":"a7","i":14,"x":-60,"y":30.6},{"c":"a7","i":15,"x":-70,"y":29.7},{"c":"a7","i":16,"x":-79.9,"y":28.7},{"c":"a7","i":17,"x":-90,"y":21.7},{"c":"a7","i":18,"x":-100,"y":21},
{"c":"a8","i":1,"x":0,"y":96.6},{"c":"a8","i":2,"x":1.2,"y":90},{"c":"a8","i":3,"x":1.9,"y":70.4},{"c":"a8","i":4,"x":5.7,"y":60},{"c":"a8","i":5,"x":0.7,"y":50.5},{"c":"a8","i":6,"x":-1.3,"y":40.1},{"c":"a8","i":7,"x":3.2,"y":30.1},{"c":"a8","i":8,"x":0.7,"y":19.2},{"c":"a8","i":9,"x":-40.1,"y":19.5},{"c":"a8","i":10,"x":-41.1,"y":20.7},{"c":"a8","i":11,"x":-42.3,"y":30.1},{"c":"a8","i":12,"x":-41.1,"y":50.5},{"c":"a8","i":13,"x":-40.1,"y":61},{"c":"a8","i":14,"x":-30.1,"y":70},{"c":"a8","i":15,"x":-24.7,"y":79.9},{"c":"a8","i":16,"x":-20.2,"y":81.4},{"c":"a8","i":17,"x":-15.2,"y":90.1},{"c":"a8","i":18,"x":0,"y":96.6},
{"c":"b1","i":1,"x":3.7,"y":140},{"c":"b1","i":2,"x":6.4,"y":130},{"c":"b1","i":3,"x":6.5,"y":100.3},{"c":"b1","i":4,"x":7.4,"y":90.3},{"c":"b1","i":5,"x":7.7,"y":70},{"c":"b1","i":6,"x":10.1,"y":66.4},{"c":"b1","i":7,"x":19.6,"y":70},{"c":"b1","i":8,"x":19.4,"y":140},
{"c":"g2","i":1,"x":20,"y":140},{"c":"g2","i":2,"x":20,"y":30.1},{"c":"g2","i":3,"x":29.9,"y":20.2},{"c":"g2","i":4,"x":140,"y":20.2},
{"c":"g3","i":1,"x":22.3,"y":140},{"c":"g3","i":2,"x":22.3,"y":30.1},{"c":"g3","i":3,"x":29.9,"y":22.8},{"c":"g3","i":4,"x":140,"y":22.8},
{"c":"g4","i":1,"x":26,"y":140},{"c":"g4","i":2,"x":26.4,"y":39.6},{"c":"g4","i":3,"x":26.8,"y":30.1},{"c":"g4","i":4,"x":30,"y":26.9},{"c":"g4","i":5,"x":140,"y":26.9},
{"c":"g5","i":1,"x":32,"y":140},{"c":"g5","i":2,"x":32,"y":40},{"c":"g5","i":3,"x":40,"y":32.6},{"c":"g5","i":4,"x":140,"y":32.6},
{"c":"g6","i":1,"x":39.8,"y":140},{"c":"g6","i":2,"x":39.8,"y":45},{"c":"g6","i":3,"x":50,"y":40.3},{"c":"g6","i":4,"x":140,"y":40.3},
{"c":"g7","i":1,"x":50,"y":140},{"c":"g7","i":2,"x":50,"y":60},{"c":"g7","i":3,"x":59.9,"y":50.7},{"c":"g7","i":4,"x":140,"y":50.7},
{"c":"g8","i":1,"x":66.4,"y":140},{"c":"g8","i":2,"x":66.6,"y":69.9},{"c":"g8","i":3,"x":70.3,"y":66.7},{"c":"g8","i":4,"x":140,"y":66.7},
{"c":"g9","i":1,"x":94.7,"y":140},{"c":"g9","i":2,"x":94.7,"y":100.2},{"c":"g9","i":3,"x":100,"y":95.3},{"c":"g9","i":4,"x":140,"y":95.3},
{"c":"h1","i":1,"x":-100,"y":7},{"c":"h1","i":2,"x":-8.3,"y":7},{"c":"h1","i":3,"x":0,"y":6.5},{"c":"h1","i":4,"x":6.5,"y":0},{"c":"h1","i":5,"x":6.5,"y":-100},
{"c":"h2","i":1,"x":-100,"y":-0.2},{"c":"h2","i":2,"x":-10.2,"y":-0.2},{"c":"h2","i":3,"x":-0.3,"y":-9.7},{"c":"h2","i":4,"x":-0.3,"y":-100},
{"c":"h3","i":1,"x":-100,"y":-3.2},{"c":"h3","i":2,"x":-10.2,"y":-3.2},{"c":"h3","i":3,"x":-3.5,"y":-9.7},{"c":"h3","i":4,"x":-3.5,"y":-100},
{"c":"h4","i":1,"x":-100,"y":-8.8},{"c":"h4","i":2,"x":-19.2,"y":-8.8},{"c":"h4","i":3,"x":-9.8,"y":-9.7},{"c":"h4","i":4,"x":-9.8,"y":-100},
{"c":"h5","i":1,"x":-100,"y":-15.9},{"c":"h5","i":2,"x":-20.2,"y":-15.9},{"c":"h5","i":3,"x":-16.2,"y":-20},{"c":"h5","i":4,"x":-16.2,"y":-100},
{"c":"h6","i":1,"x":-100,"y":-26.4},{"c":"h6","i":2,"x":-30.2,"y":-26.4},{"c":"h6","i":3,"x":-26.9,"y":-29.9},{"c":"h6","i":4,"x":-26.9,"y":-100},
{"c":"h7","i":1,"x":-100,"y":-42.3},{"c":"h7","i":2,"x":-50,"y":-42.5},{"c":"h7","i":3,"x":-42.9,"y":-49.8},{"c":"h7","i":4,"x":-42.9,"y":-100},
{"c":"h8","i":1,"x":-100,"y":-69.4},{"c":"h8","i":2,"x":-70,"y":-69.7},{"c":"h8","i":3,"x":-70,"y":-100},
{"c":"d","i":1,"x":140,"y":17.2},{"c":"d","i":2,"x":100.2,"y":17.2},{"c":"d","i":3,"x":96.4,"y":10},{"c":"d","i":4,"x":100.2,"y":6.3},{"c":"d","i":5,"x":130,"y":6.1},{"c":"d","i":6,"x":140,"y":2.6},
{"c":"e","i":1,"x":19.1,"y":0.8},{"c":"e","i":2,"x":29.9,"y":3.1},{"c":"e","i":3,"x":39.8,"y":-0.2},{"c":"e","i":4,"x":50,"y":6},{"c":"e","i":5,"x":59.9,"y":6.3},{"c":"e","i":6,"x":69.9,"y":6.8},{"c":"e","i":7,"x":79.8,"y":7.3},{"c":"e","i":8,"x":89.8,"y":6.8},{"c":"e","i":9,"x":96.2,"y":0.1},{"c":"e","i":10,"x":90.2,"y":-13.6},{"c":"e","i":11,"x":80.3,"y":-19.6},{"c":"e","i":12,"x":80.1,"y":-22.3},{"c":"e","i":13,"x":69.9,"y":-27},{"c":"e","i":14,"x":69.4,"y":-30},{"c":"e","i":15,"x":58.4,"y":-39.5},{"c":"e","i":16,"x":50,"y":-40.5},{"c":"e","i":17,"x":40,"y":-40.7},{"c":"e","i":18,"x":29.9,"y":-41.8},{"c":"e","i":19,"x":20.1,"y":-40.5},{"c":"e","i":20,"x":19.1,"y":-30},{"c":"e","i":21,"x":18.8,"y":-9.7},{"c":"e","i":22,"x":19.1,"y":0.8},
{"c":"f1","i":1,"x":140,"y":-0.7},{"c":"f1","i":2,"x":130,"y":-3.7},{"c":"f1","i":3,"x":120.1,"y":-4.2},{"c":"f1","i":4,"x":109.7,"y":-5.4},{"c":"f1","i":5,"x":100.2,"y":-10},{"c":"f1","i":6,"x":91.7,"y":-19.8},{"c":"f1","i":7,"x":90.4,"y":-30},{"c":"f1","i":8,"x":89.8,"y":-34},{"c":"f1","i":9,"x":80.3,"y":-40},{"c":"f1","i":10,"x":69.9,"y":-40},{"c":"f1","i":11,"x":59.9,"y":-41.3},{"c":"f1","i":12,"x":50,"y":-45.5},{"c":"f1","i":13,"x":40,"y":-47.5},{"c":"f1","i":14,"x":34.5,"y":-50},{"c":"f1","i":15,"x":29.9,"y":-59.4},{"c":"f1","i":16,"x":27.6,"y":-79.8},{"c":"f1","i":17,"x":21.1,"y":-89.8},{"c":"f1","i":18,"x":20.6,"y":-100},
{"c":"f2","i":1,"x":140,"y":-5.2},{"c":"f2","i":2,"x":131,"y":-10.6},{"c":"f2","i":3,"x":120.1,"y":-10.9},{"c":"f2","i":4,"x":109.7,"y":-11.9},{"c":"f2","i":5,"x":100.2,"y":-14.9},{"c":"f2","i":6,"x":95.7,"y":-19.8},{"c":"f2","i":7,"x":91.7,"y":-40},{"c":"f2","i":8,"x":89.8,"y":-40.7},{"c":"f2","i":9,"x":69.9,"y":-41.8},{"c":"f2","i":10,"x":59.9,"y":-43.8},{"c":"f2","i":11,"x":51,"y":-50},{"c":"f2","i":12,"x":50,"y":-53.4},{"c":"f2","i":13,"x":42.7,"y":-59.7},{"c":"f2","i":14,"x":40,"y":-79.8},{"c":"f2","i":15,"x":29.6,"y":-87.3},{"c":"f2","i":16,"x":28,"y":-89.8},{"c":"f2","i":17,"x":25.6,"y":-100},
{"c":"f3","i":1,"x":140,"y":-11.1},{"c":"f3","i":2,"x":130,"y":-15.8},{"c":"f3","i":3,"x":120.1,"y":-16.4},{"c":"f3","i":4,"x":109.7,"y":-18.1},{"c":"f3","i":5,"x":106.2,"y":-19.8},{"c":"f3","i":6,"x":100.2,"y":-27},{"c":"f3","i":7,"x":95.7,"y":-40},{"c":"f3","i":8,"x":90.2,"y":-42.7},{"c":"f3","i":9,"x":69.9,"y":-44.5},{"c":"f3","i":10,"x":59.9,"y":-48},{"c":"f3","i":11,"x":56.9,"y":-50},{"c":"f3","i":12,"x":52.2,"y":-59.7},{"c":"f3","i":13,"x":51,"y":-79.8},{"c":"f3","i":14,"x":38.5,"y":-89.8},{"c":"f3","i":15,"x":32.5,"y":-100},
{"c":"f4","i":1,"x":140,"y":-18.1},{"c":"f4","i":2,"x":136,"y":-20.1},{"c":"f4","i":3,"x":130.5,"y":-29.6},{"c":"f4","i":4,"x":120.1,"y":-31.3},{"c":"f4","i":5,"x":109.7,"y":-39},{"c":"f4","i":6,"x":108.7,"y":-40},{"c":"f4","i":7,"x":100.2,"y":-41},{"c":"f4","i":8,"x":89.8,"y":-47},{"c":"f4","i":9,"x":69.9,"y":-49.8},{"c":"f4","i":10,"x":59.9,"y":-59.7},{"c":"f4","i":11,"x":56.9,"y":-69.9},{"c":"f4","i":12,"x":56.6,"y":-79.8},{"c":"f4","i":13,"x":45.5,"y":-89.8},{"c":"f4","i":14,"x":41,"y":-100},
{"c":"f5","i":1,"x":140,"y":-30.5},{"c":"f5","i":2,"x":130,"y":-34.5},{"c":"f5","i":3,"x":120.1,"y":-42.5},{"c":"f5","i":4,"x":109.7,"y":-44},{"c":"f5","i":5,"x":100.2,"y":-45.8},{"c":"f5","i":6,"x":94.2,"y":-50},{"c":"f5","i":7,"x":89.8,"y":-57.9},{"c":"f5","i":8,"x":80.3,"y":-60.9},{"c":"f5","i":9,"x":69.9,"y":-69.6},{"c":"f5","i":10,"x":69,"y":-79.8},{"c":"f5","i":11,"x":55.4,"y":-89.8},{"c":"f5","i":12,"x":51.7,"y":-100},
{"c":"f6","i":1,"x":140,"y":-42},{"c":"f6","i":2,"x":120.1,"y":-49.5},{"c":"f6","i":3,"x":109.7,"y":-53.4},{"c":"f6","i":4,"x":100.2,"y":-59.7},{"c":"f6","i":5,"x":89.8,"y":-69.4},{"c":"f6","i":6,"x":79.8,"y":-79.8},{"c":"f6","i":7,"x":72.3,"y":-89.8},{"c":"f6","i":8,"x":68.4,"y":-100},
{"c":"f7","i":1,"x":140,"y":-64.9},{"c":"f7","i":2,"x":130,"y":-69.4},{"c":"f7","i":3,"x":120.1,"y":-75.3},{"c":"f7","i":4,"x":109.7,"y":-81.3},{"c":"f7","i":5,"x":100.2,"y":-92.2},{"c":"f7","i":6,"x":95.2,"y":-100}
]},"mark":{"type":"line","clip":true,"color":"#7a1430","strokeWidth":2.8,"strokeJoin":"miter"},"encoding":{"detail":{"field":"c"},"order":{"field":"i","type":"quantitative"}}},
{"transform":[{"filter":"datum.x>-100&&datum.x<140&&datum.y>-100&&datum.y<140"}],"mark":{"type":"point","filled":true,"color":"black","opacity":1,"size":26}},
{"transform":[{"filter":"datum.x==0&&datum.y==0"}],"mark":{"type":"point","opacity":0},
"encoding":{"x":{"field":"x","type":"quantitative","scale":{"domain":[-100,140],"nice":false,"zero":false},"axis":{"orient":"bottom","zindex":1,"values":[-100,-90,-80,-70,-60,-50,-40,-30,-20,-10,0,10,20,30,40,50,60,70,80,90,100,110,120,130,140],"labelExpr":"datum.value%50===0?replace(datum.label,'-','−'):''","labelFont":"Liberation Serif","labelFontSize":60,"labelColor":"black","labelPadding":23,"labelOverlap":false,"labelFlush":false,"labelBound":false,"grid":false,"domainColor":"black","domainWidth":2.5,"tickColor":"black","tickWidth":1,"tickSize":{"condition":{"test":"datum.value%50===0","value":-22},"value":-11},"title":"Δv comp. 1 [km/s]","titleFont":"Liberation Sans","titleFontWeight":"normal","titleFontSize":66,"titleColor":"black","titlePadding":8}},
"y":{"field":"y","type":"quantitative","scale":{"domain":[-100,140],"nice":false,"zero":false},"axis":{"orient":"left","zindex":1,"values":[-100,-90,-80,-70,-60,-50,-40,-30,-20,-10,0,10,20,30,40,50,60,70,80,90,100,110,120,130,140],"labelExpr":"datum.value%50===0&&datum.value>-100?replace(datum.label,'-','−'):''","labelFont":"Liberation Serif","labelFontSize":60,"labelColor":"black","labelPadding":33,"labelOverlap":false,"labelFlush":false,"labelBound":false,"grid":false,"domainColor":"black","domainWidth":2.5,"tickColor":"black","tickWidth":1,"tickSize":{"condition":{"test":"datum.value%50===0","value":-22},"value":-11},"title":"Δv comp. 2 [km/s]","titleFont":"Liberation Sans","titleFontWeight":"normal","titleFontSize":66,"titleColor":"black","titlePadding":24}}}},
{"transform":[{"filter":"datum.x==0&&datum.y==0"}],"mark":{"type":"point","opacity":0},
"encoding":{"x":{"field":"x","type":"quantitative","scale":{"domain":[-100,140],"nice":false,"zero":false},"axis":{"orient":"top","zindex":1,"values":[-100,-90,-80,-70,-60,-50,-40,-30,-20,-10,0,10,20,30,40,50,60,70,80,90,100,110,120,130,140],"labels":false,"title":null,"grid":false,"domainColor":"black","domainWidth":2.5,"tickColor":"black","tickWidth":1,"tickSize":{"condition":{"test":"datum.value%50===0","value":-22},"value":-11}}},
"y":{"field":"y","type":"quantitative","scale":{"domain":[-100,140],"nice":false,"zero":false},"axis":{"orient":"right","zindex":1,"values":[-100,-90,-80,-70,-60,-50,-40,-30,-20,-10,0,10,20,30,40,50,60,70,80,90,100,110,120,130,140],"labels":false,"title":null,"grid":false,"domainColor":"black","domainWidth":2.5,"tickColor":"black","tickWidth":1,"tickSize":{"condition":{"test":"datum.value%50===0","value":-22},"value":-11}}}}}
]}
